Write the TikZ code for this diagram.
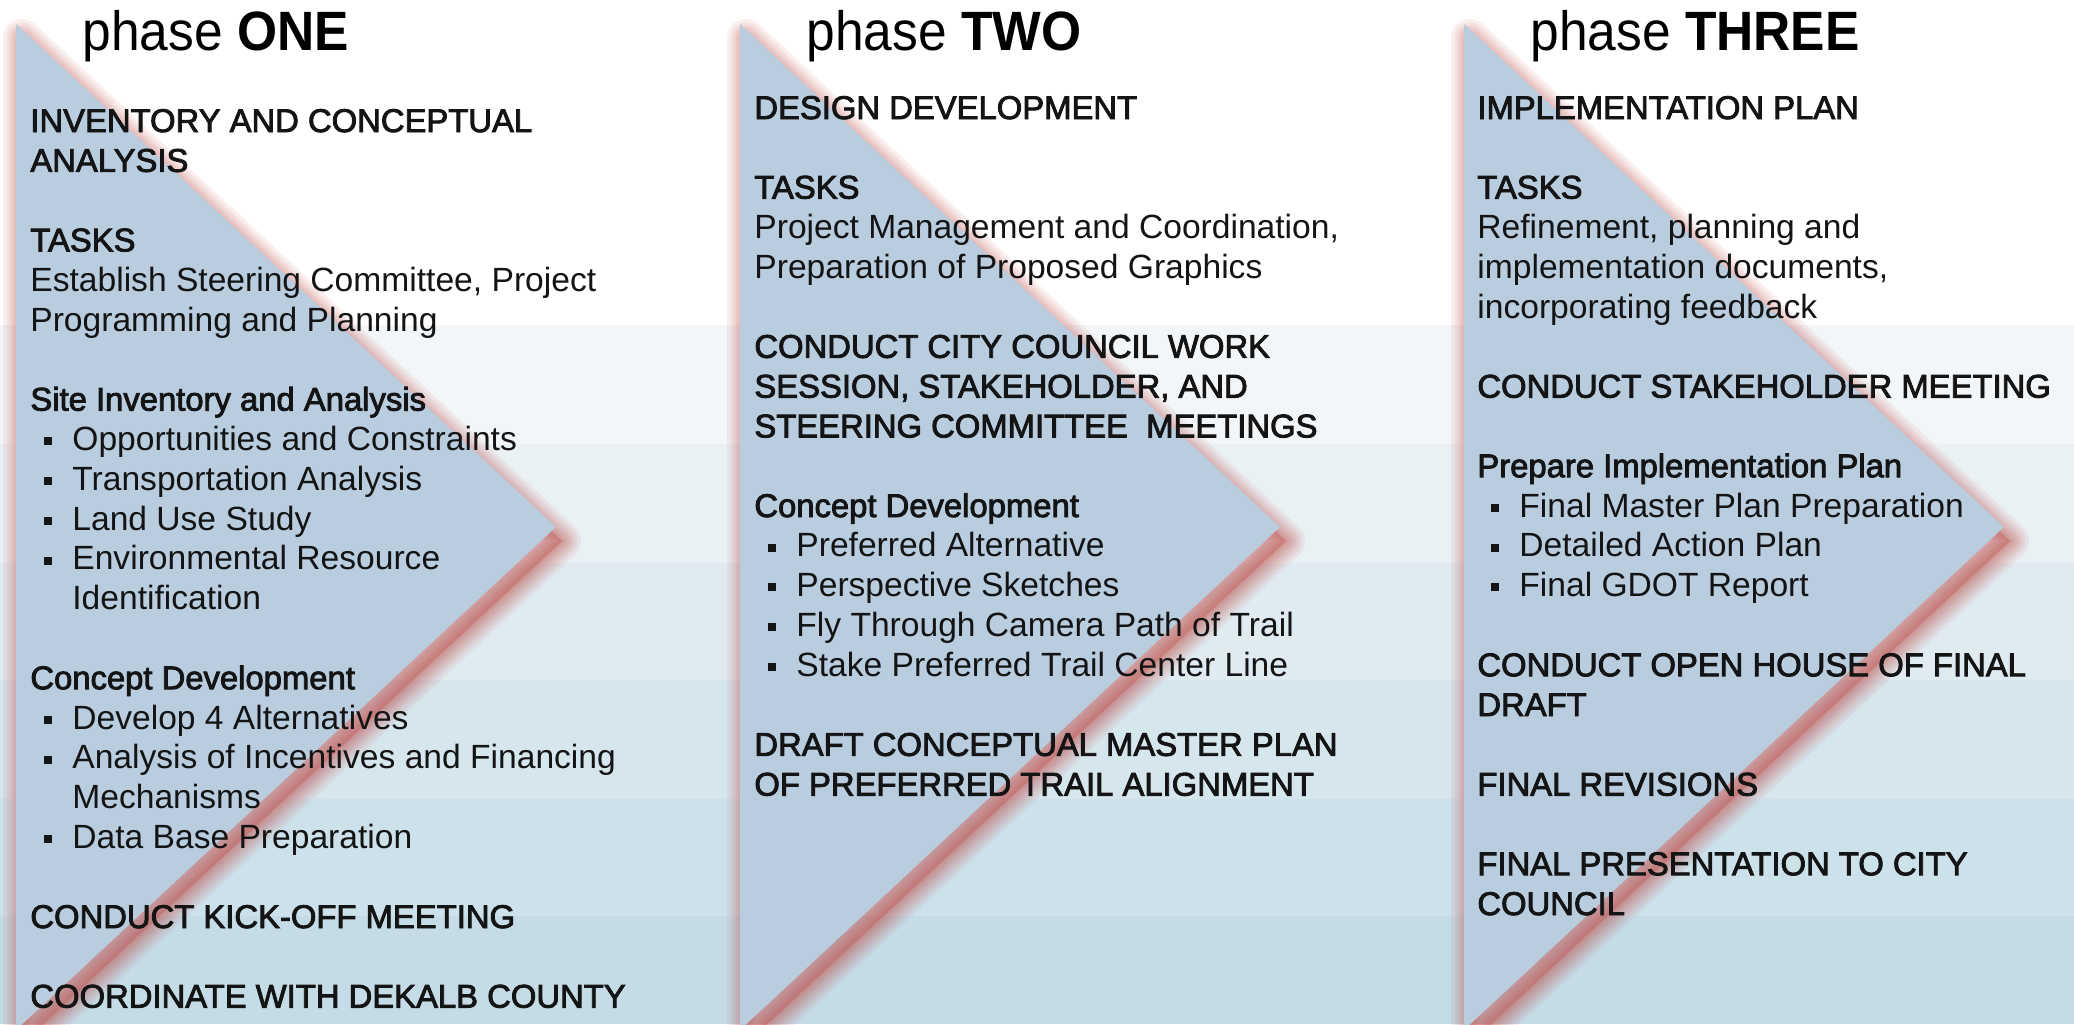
\documentclass[tikz,border=0pt]{standalone}
\usepackage{fontspec}
\setmainfont{Liberation Sans}
\newfontfamily\hdfam[FakeBold=2.6]{Liberation Sans}
\newfontfamily\ttlfam[FakeStretch=0.93]{Liberation Sans}
\newcommand\hdf{\hdfam\fontsize{16.4pt}{20pt}\selectfont}
\newcommand\bul{\hbox to 21pt{\hskip 6.6pt\vrule width 4pt height 6.6pt depth -2.6pt\hfil}}
\newcommand\ind{\hspace*{21pt}}
\definecolor{tri}{HTML}{B9CDDF}
\definecolor{shred}{HTML}{C0504D}
\definecolor{ink}{HTML}{141414}
\definecolor{bA}{HTML}{F3F6F8}
\definecolor{bB}{HTML}{EAF1F5}
\definecolor{bC}{HTML}{E0EBF1}
\definecolor{bD}{HTML}{D6E6ED}
\definecolor{bE}{HTML}{CDE1EA}
\definecolor{bF}{HTML}{C5DCE6}
\begin{document}
\begin{tikzpicture}[x=0.5pt,y=-0.5pt,
  ln/.style={anchor=base west, inner sep=0pt, text=ink, font=\fontsize{16.8pt}{20pt}\selectfont},
  ttl/.style={anchor=base west, inner sep=0pt, text=black, font=\ttlfam\fontsize{27.7pt}{30pt}\selectfont},
  blur/.style={shred, line width=#1*0.5pt, opacity=0.09, line join=round}]
\useasboundingbox (0,0) rectangle (2074,1024);
% background bands
\fill[white] (0,0) rectangle (2074,325);
\fill[bA] (0,325) rectangle (2074,444);
\fill[bB] (0,444) rectangle (2074,563);
\fill[bC] (0,563) rectangle (2074,680);
\fill[bD] (0,680) rectangle (2074,799);
\fill[bE] (0,799) rectangle (2074,916);
\fill[bF] (0,916) rectangle (2074,1024);
% red shadows
\foreach \L in {16,740,1464}{
  \foreach \w in {38,31,25,20,15,11,7,3}
    \draw[blur=\w] (\L+6,38) -- (\L+546,541) -- (\L+6,1044) -- cycle;
  \fill[shred, opacity=0.38] (\L+6,38) -- (\L+546,541) -- (\L+6,1044) -- cycle;
}
% chevron triangles
\foreach \L in {16,740,1464}
  \fill[tri] (\L,24) -- (\L+540,527) -- (\L,1030) -- cycle;
% titles
\node[ttl] (p1) at (82,50) {phase \textbf{ONE}};
\node[ttl] (p2) at (806,50) {phase \textbf{TWO}};
\node[ttl] (p3) at (1530,50) {phase \textbf{THREE}};
% column 1
\foreach \k/\t in {0/{\hdf INVENTORY AND CONCEPTUAL}, 1/{\hdf ANALYSIS}, 3/{\hdf TASKS},
  4/{Establish Steering Committee, Project}, 5/{Programming and Planning},
  7/{\hdf Site Inventory and Analysis}, 8/{\bul Opportunities and Constraints},
  9/{\bul Transportation Analysis}, 10/{\bul Land Use Study}, 11/{\bul Environmental Resource},
  12/{\ind Identification}, 14/{\hdf Concept Development}, 15/{\bul Develop 4 Alternatives},
  16/{\bul Analysis of Incentives and Financing}, 17/{\ind Mechanisms},
  18/{\bul Data Base Preparation}, 20/{\hdf CONDUCT KICK-OFF MEETING},
  22/{\hdf COORDINATE WITH DEKALB COUNTY}}
  \node[ln] (c1l\k) at (30,{132+\k*39.8}) {\t};
% column 2
\foreach \k/\t in {0/{\hdf DESIGN DEVELOPMENT}, 2/{\hdf TASKS},
  3/{Project Management and Coordination,}, 4/{Preparation of Proposed Graphics},
  6/{\hdf CONDUCT CITY COUNCIL WORK}, 7/{\hdf SESSION, STAKEHOLDER, AND},
  8/{\hdf STEERING COMMITTEE\ \ MEETINGS}, 10/{\hdf Concept Development},
  11/{\bul Preferred Alternative}, 12/{\bul Perspective Sketches},
  13/{\bul Fly Through Camera Path of Trail}, 14/{\bul Stake Preferred Trail Center Line},
  16/{\hdf DRAFT CONCEPTUAL MASTER PLAN}, 17/{\hdf OF PREFERRED TRAIL ALIGNMENT}}
  \node[ln] (c2l\k) at (754,{119+\k*39.8}) {\t};
% column 3
\foreach \k/\t in {0/{\hdf IMPLEMENTATION PLAN}, 2/{\hdf TASKS},
  3/{Refinement, planning and}, 4/{implementation documents,}, 5/{incorporating feedback},
  7/{\hdf CONDUCT STAKEHOLDER MEETING}, 9/{\hdf Prepare Implementation Plan},
  10/{\bul Final Master Plan Preparation}, 11/{\bul Detailed Action Plan},
  12/{\bul Final GDOT Report}, 14/{\hdf CONDUCT OPEN HOUSE OF FINAL}, 15/{\hdf DRAFT},
  17/{\hdf FINAL REVISIONS}, 19/{\hdf FINAL PRESENTATION TO CITY}, 20/{\hdf COUNCIL}}
  \node[ln] (c3l\k) at (1477,{119+\k*39.8}) {\t};
\end{tikzpicture}
\end{document}
